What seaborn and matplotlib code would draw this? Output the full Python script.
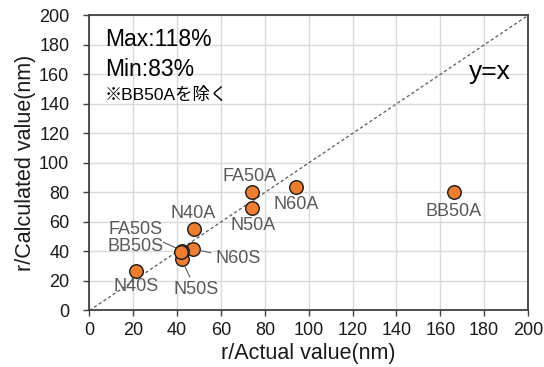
import matplotlib
matplotlib.use("Agg")
import matplotlib.pyplot as plt
import seaborn as sns
import pandas as pd

# Sample names and measured / calculated radii (nm)
names = ["N40S", "N50S", "N60S", "FA50S", "BB50S", "N40A", "N50A", "N60A", "FA50A", "BB50A"]
actual = [21.3, 42.0, 47.2, 42.4, 41.8, 47.6, 74.3, 94.4, 74.3, 166.4]
calculated = [27.1, 34.8, 41.6, 40.4, 39.6, 55.4, 69.4, 83.6, 80.2, 80.2]

# Label placement (data coords) and whether a leader line is drawn
label_x = [21.2, 48.5, 67.8, 21.2, 21.2, 47.3, 74.6, 94.4, 73.1, 166.2]
label_y = [16.1, 13.9, 35.4, 54.6, 43.3, 65.9, 57.3, 71.5, 90.7, 67.0]
leader = [False, True, True, True, False, False, False, False, False, False]

ticks = list(range(0, 201, 20))

sns.set_theme(style="white")
plt.rcParams["font.family"] = ["Liberation Sans", "Noto Sans CJK JP", "DejaVu Sans"]

df = pd.DataFrame({"name": names, "actual": actual, "calculated": calculated})

fig = plt.figure(figsize=(5.44, 3.67), dpi=100)
ax = fig.add_axes([0.1645, 0.154, 0.806, 0.804])

ax.plot([0, 200], [0, 200], color="#595959", lw=0.9, ls=(0, (2.5, 2)), zorder=2)

sns.scatterplot(data=df, x="actual", y="calculated", ax=ax, s=95,
                color="#ED7D31", edgecolor="#1a1a1a", linewidth=1.0, zorder=4, legend=False)

gray_txt = "#595959"
lab_fs = 13
for n, px, py, lx, ly, ld in zip(names, actual, calculated, label_x, label_y, leader):
    if ld:
        ax.annotate(n, xy=(px, py), xytext=(lx, ly), ha="center", va="center",
                    fontsize=lab_fs, color=gray_txt, zorder=5,
                    arrowprops=dict(arrowstyle="-", color=gray_txt, lw=0.8,
                                    shrinkA=1, shrinkB=5.5))
    else:
        ax.text(lx, ly, n, ha="center", va="center", fontsize=lab_fs, color=gray_txt, zorder=5)

ax.set_xlim(0, 200)
ax.set_ylim(0, 200)
ax.set_xticks(ticks)
ax.set_yticks(ticks)
ax.grid(True, color="#d9d9d9", lw=1.0, zorder=0)
ax.set_axisbelow(True)
for sp in ax.spines.values():
    sp.set_visible(True)
    sp.set_color("#404040")
    sp.set_linewidth(1.3)
ax.tick_params(axis="both", which="major", direction="out", length=4.5, width=1.0,
               color="#404040", labelsize=13, labelcolor="#1a1a1a",
               bottom=True, left=True)
ax.tick_params(axis="y", pad=10)
ax.tick_params(axis="x", pad=4)

ax.set_xlabel("r/Actual value(nm)", fontsize=15.5, color="#1a1a1a", labelpad=3)
ax.set_ylabel("r/Calculated value(nm)", fontsize=15.5, color="#1a1a1a", labelpad=2)

ax.text(7, 183.4, "Max:118%", fontsize=16.5, color="black", va="center", ha="left")
ax.text(7, 163.5, "Min:83%", fontsize=16.5, color="black", va="center", ha="left")
ax.text(7, 146, "※BB50Aを除く", fontsize=12.5, color="black", va="center", ha="left")
ax.text(182.4, 161.7, "y=x", fontsize=19, color="black", va="center", ha="center")

fig.savefig("out.png", dpi=100)
